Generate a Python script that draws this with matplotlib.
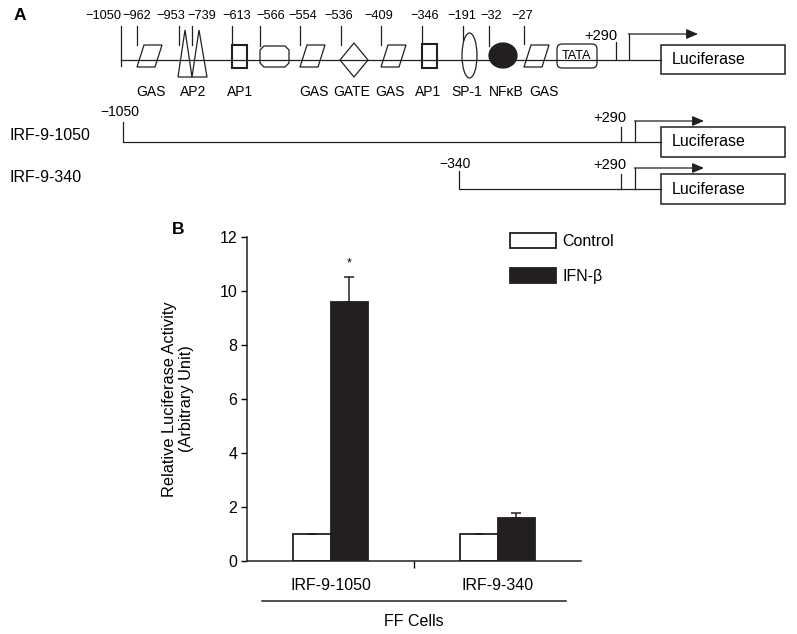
import numpy as np
import matplotlib
matplotlib.use('Agg')
import matplotlib.pyplot as plt
from matplotlib.patches import Rectangle, Polygon, Ellipse, FancyBboxPatch

plt.rcParams['font.family'] = ['Liberation Sans', 'DejaVu Sans']

# ---- data: panel B (luciferase assay) ----
groups = ['IRF-9-1050', 'IRF-9-340']
control_vals = [1.0, 1.0]
ifn_vals = [9.6, 1.58]
control_err = [0.0, 0.0]
ifn_err = [0.93, 0.19]
series_names = ['Control', 'IFN-\u03b2']
y_ticks = [0, 2, 4, 6, 8, 10, 12]

# ---- data: panel A (promoter map) ----
site_labels = ['\u22121050', '\u2212962', '\u2212953', '\u2212739', '\u2212613', '\u2212566',
               '\u2212554', '\u2212536', '\u2212409', '\u2212346', '\u2212191', '\u221232', '\u221227']
element_names = ['GAS', 'AP2', 'AP1', 'GAS', 'GATE', 'GAS', 'AP1', 'SP-1', 'NF\u03baB', 'GAS']
constructs = ['IRF-9-1050', 'IRF-9-340']
construct_starts = ['\u22121050', '\u2212340']

# layout (pixels) for the schematic
site_label_x = [103, 137, 171, 202, 237, 271, 303, 339, 379, 425, 462, 491, 522]
site_tick_x = [121, 137, 179, 192, 232, 260, 300, 341, 381, 422, 463, 489, 524]
site_tick_bottom = [60, 45, 45, 45, 45, 46, 45, 45, 45, 44, 40, 46, 44]
element_x = [151, 193, 240, 314, 352, 390, 428, 467, 506, 544]

W, H = 797, 634
ink = '#231f20'
fig = plt.figure(figsize=(W / 100, H / 100), dpi=100)

ov = fig.add_axes([0, 0, 1, 1])
ov.set_xlim(0, W)
ov.set_ylim(H, 0)
ov.axis('off')

lw = 0.9
fs_num = 9.2
fs_el = 10
fs_big = 11.5

ov.text(14, 16, 'A', fontsize=12.5, fontweight='bold', va='center', ha='left')
ov.text(172, 230, 'B', fontsize=12.5, fontweight='bold', va='center', ha='left')

# main promoter line
y0 = 60
ov.plot([121, 661], [y0, y0], color=ink, lw=lw)
for lab, lx, tx, tb in zip(site_labels, site_label_x, site_tick_x, site_tick_bottom):
    ov.text(lx, 16, lab, fontsize=fs_num, ha='center', va='center')
    ov.plot([tx, tx], [26, tb], color=ink, lw=lw)
ov.plot([121, 121], [60, 66], color=ink, lw=lw)

def gas(x0):
    ov.add_patch(Polygon([[x0, 67], [x0 + 18, 67], [x0 + 25, 45], [x0 + 7, 45]],
                         closed=True, fc='white', ec=ink, lw=lw))

gas(137)
gas(300)
gas(381)
gas(524)
# AP2 triangles
ov.add_patch(Polygon([[178, 77], [192, 77], [185, 30]], closed=True, fc='white', ec=ink, lw=lw))
ov.add_patch(Polygon([[192, 77], [207, 77], [199, 30]], closed=True, fc='white', ec=ink, lw=lw))
# AP1 boxes
ov.add_patch(Rectangle((232, 45), 15, 23, fc='white', ec=ink, lw=1.5))
ov.add_patch(Rectangle((422, 44), 15, 24, fc='white', ec=ink, lw=1.5))
# octagon
c = 4
ov.add_patch(Polygon([[260 + c, 46], [289 - c, 46], [289, 46 + c], [289, 67 - c], [289 - c, 67],
                      [260 + c, 67], [260, 67 - c], [260, 46 + c]], closed=True, fc='white', ec=ink, lw=lw))
# GATE diamond
ov.add_patch(Polygon([[354, 43], [368, 60], [354, 77], [340, 60]], closed=True, fc='white', ec=ink, lw=lw))
# SP-1
ov.add_patch(Ellipse((469.5, 55.5), 15, 45, fc='white', ec=ink, lw=lw))
# NFkB
ov.add_patch(Ellipse((503, 55.5), 28, 25, fc=ink, ec=ink, lw=lw))
# TATA
ov.add_patch(FancyBboxPatch((557, 44), 40, 24, boxstyle='round,pad=0,rounding_size=5',
                            fc='white', ec=ink, lw=lw))
ov.text(577, 56, 'TATA', fontsize=9.2, ha='center', va='center')
for name, ex in zip(element_names, element_x):
    ov.text(ex, 92, name, fontsize=fs_el, ha='center', va='center')

def promoter_end(yl, top, box_top, box_bot, tick_top, lab_y, arrow_x, tick_x, lab_x):
    ov.text(lab_x, lab_y, '+290', fontsize=10.5, ha='center', va='center')
    ov.plot([tick_x, tick_x], [tick_top, yl], color=ink, lw=lw)
    ov.plot([arrow_x, arrow_x], [yl, top], color=ink, lw=lw)
    ov.annotate('', xy=(arrow_x + 69, top), xytext=(arrow_x - 0.5, top),
                arrowprops=dict(arrowstyle='-|>,head_length=0.7,head_width=0.3', color=ink, lw=lw,
                                shrinkA=0, shrinkB=0))
    ov.add_patch(Rectangle((661, box_top), 124, box_bot - box_top, fc='white', ec=ink, lw=1.1))
    ov.text(672, (box_top + box_bot) / 2, 'Luciferase', fontsize=fs_big, ha='left', va='center')

promoter_end(60, 34, 45, 74, 42, 36, 629, 616, 601)

# constructs
row_y = [142, 189]
row_start = [123, 459]
row_label_y = [136, 177]
start_lab = [(120, 112), (455, 164)]
for name, st, yl, x0, ly, sl in zip(constructs, construct_starts, row_y, row_start, row_label_y, start_lab):
    ov.text(10, ly, name, fontsize=fs_big, ha='left', va='center')
    ov.text(sl[0], sl[1], st, fontsize=10, ha='center', va='center')
    ov.plot([x0, x0, 661], [yl - 18 if x0 > 200 else yl - 20, yl, yl], color=ink, lw=lw)
    promoter_end(yl, yl - 21, yl - 15, yl + 15, yl - 15, yl - 24, 635, 621, 610)

# ---- panel B ----
ax = fig.add_axes([247 / W, 1 - 561 / H, 334 / W, 324 / H])
ax.patch.set_alpha(0)
x = np.arange(len(groups))
w = 0.222
b1 = ax.bar(x - w / 2, control_vals, w, color='white', edgecolor=ink, lw=1.3)
b2 = ax.bar(x + w / 2, ifn_vals, w, color=ink, edgecolor=ink, lw=1.3)
ax.errorbar(x - w / 2, control_vals, yerr=[np.zeros(2), control_err], fmt='none',
            ecolor=ink, capsize=3, elinewidth=1.1, capthick=1.1)
ax.errorbar(x + w / 2, ifn_vals, yerr=[np.zeros(2), ifn_err], fmt='none',
            ecolor=ink, capsize=3.5, elinewidth=1.1, capthick=1.1)
ax.text(x[0] + w / 2, ifn_vals[0] + ifn_err[0] + 0.5, '*', ha='center', va='center', fontsize=9)

ax.set_xlim(-0.5, 1.5)
ax.set_ylim(0, 12)
ax.set_yticks(y_ticks)
ax.set_xticks(x)
ax.set_xticklabels(groups)
ax.set_xticks([0.5], minor=True)
ax.tick_params(axis='x', which='major', length=0, pad=12, labelsize=fs_big)
ax.tick_params(axis='x', which='minor', length=5, direction='out', width=1)
ax.tick_params(axis='y', length=4, width=1, labelsize=fs_big, pad=3)
for s in ['top', 'right']:
    ax.spines[s].set_visible(False)
for s in ['left', 'bottom']:
    ax.spines[s].set_linewidth(1.1)
    ax.spines[s].set_color(ink)
ax.set_ylabel('Relative Luciferase Activity\n(Arbitrary Unit)', fontsize=11.8, linespacing=1.1)
ax.yaxis.set_label_coords(-0.16, 0.5)

ax.legend([b1, b2], series_names, loc='upper left', bbox_to_anchor=(510 / W, 1 - 233 / H),
          bbox_transform=fig.transFigure, frameon=False, handlelength=2.85, handleheight=1.08,
          handletextpad=0.45, labelspacing=1.2, borderpad=0, borderaxespad=0, fontsize=fs_big)

ov.plot([262, 566], [601, 601], color=ink, lw=1.1)
ov.text(414, 622, 'FF Cells', fontsize=fs_big, ha='center', va='center')

fig.savefig('out.png', dpi=100)
